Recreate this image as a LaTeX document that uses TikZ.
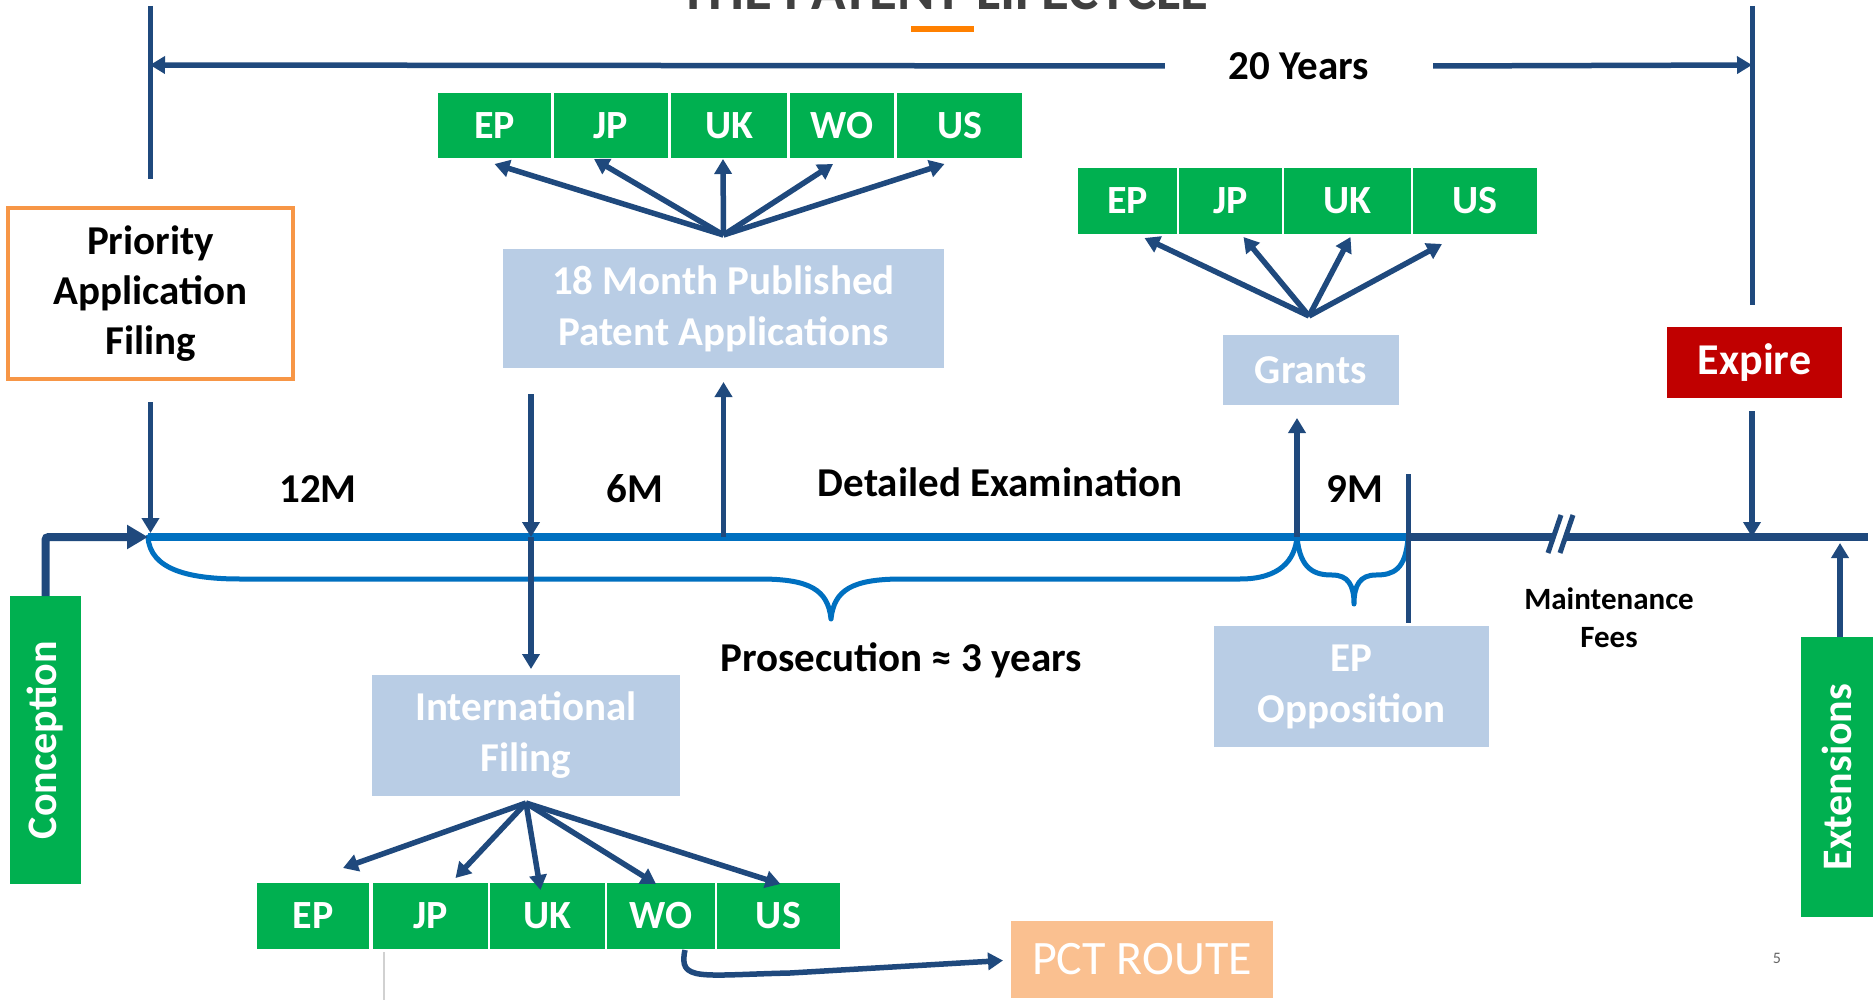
\documentclass[tikz,border=0pt]{standalone}
\usepackage{fontspec}
\setmainfont{Carlito}
\usetikzlibrary{arrows.meta}
\definecolor{pgreen}{HTML}{00B050}
\definecolor{plblue}{HTML}{B9CDE5}
\definecolor{pnavy}{HTML}{1F497D}
\definecolor{ptime}{HTML}{0070C0}
\definecolor{pred}{HTML}{C00000}
\definecolor{porange}{HTML}{F79646}
\definecolor{ppeach}{HTML}{FAC090}
\definecolor{ptitle}{HTML}{404040}
\definecolor{porbar}{HTML}{FF8000}
\begin{document}
\begin{tikzpicture}[x=1pt,y=-1pt,
  every node/.style={inner sep=0pt, outer sep=0pt},
  gbox/.style={fill=pgreen, draw=white, line width=1.5pt, anchor=north west, text=white, font=\bfseries\fontsize{40}{48}\selectfont},
  gvert/.style={fill=pgreen, rotate=90, anchor=center, text=white, font=\bfseries\fontsize{42}{48}\selectfont},
  lbbox/.style={fill=plblue, anchor=north west, text=white, align=center, font=\bfseries\fontsize{41}{51}\selectfont},
  arr/.style={draw=pnavy, line width=5.5pt, -{Triangle[width=17pt,length=15pt]}},
  bigarr/.style={draw=pnavy, line width=8pt, -{Triangle[width=23pt,length=21pt]}},
  navyline/.style={draw=pnavy, line width=5pt},
  lbl/.style={font=\bfseries\fontsize{41}{48}\selectfont, text=black, align=center},
  brace/.style={draw=ptime, line width=5pt, line cap=round, line join=round},
]
\useasboundingbox (0,0) rectangle (1874,1000);
\fill[white] (0,0) rectangle (1874,1000);
\begin{scope}
\clip (0,0) rectangle (1874,1000);

% title (cut off at top)
\node[anchor=base, font=\bfseries\fontsize{57}{57}\selectfont, text=ptitle] (title) at (944,10) {THE PATENT LIFECYCLE};
\fill[porbar] (911,26) rectangle (974,32);

% 20 years
\coordinate (yl) at (150,65);
\coordinate (yr) at (1752,65);
\draw[navyline] (150,6) -- (150,179);
\draw[navyline] (1752,6) -- (1752,305);
\node[lbl] (twenty) at (1299,66) {20 Years};
\draw[arr] ([xshift=-64pt]twenty.west) -- (yl);
\draw[arr] ([xshift=64pt]twenty.east) -- (yr);

% timeline
\coordinate (tl) at (0,537);
\coordinate (tA) at (148,537);
\coordinate (tG) at (1297,537);
\coordinate (tB) at (1408,537);
\coordinate (tC) at (1868,537);
\draw[ptime, line width=8pt] (tA) -- (tB);
\draw[pnavy, line width=8pt] (tB) -- (tC);
% break
\draw[white, line width=8pt] (1554,556) -- (1567,512);
\draw[navyline] (1548,553) -- (1561,515);
\draw[navyline] (1560,553) -- (1573,515);

% braces
\draw[brace] (tA) .. controls (150,570) and (190,579) .. (240,579) -- (760,579)
  .. controls (810,579) and (828,590) .. (831,619)
  .. controls (834,590) and (852,579) .. (902,579) -- (1240,579)
  .. controls (1280,579) and (1295,560) .. (tG);
\draw[brace] (tG) .. controls (1300,570) and (1315,575) .. (1332,575)
  .. controls (1348,575) and (1354,585) .. (1354,604)
  .. controls (1354,585) and (1360,575) .. (1376,575)
  .. controls (1393,575) and (1406,570) .. (tB);
\draw[navyline] (tB |- 0,474) -- (tB |- 0,623);

% Priority
\node[draw=porange, line width=4pt, fill=white, anchor=north west, minimum width=285pt, minimum height=171pt, align=center, font=\bfseries\fontsize{41}{50}\selectfont] (prio) at (8,208) {Priority\\Application\\Filing};
\draw[arr] ([yshift=-23pt]prio.south) -- ([yshift=4pt]prio.south |- tl);

% Conception
\node[gvert, minimum width=288pt, minimum height=71pt] (concep) at (45.5,740) {Conception};
\draw[bigarr, rounded corners=3pt] (concep.east) |- (tA);

% published applications
\node[gbox, minimum width=115pt, minimum height=67pt] (pEP) at (437,92) {EP};
\node[gbox, minimum width=116pt, minimum height=67pt] (pJP) at (553,92) {JP};
\node[gbox, minimum width=118pt, minimum height=67pt] (pUK) at (670,92) {UK};
\node[gbox, minimum width=106pt, minimum height=67pt] (pWO) at (789,92) {WO};
\node[gbox, minimum width=127pt, minimum height=67pt] (pUS) at (896,92) {US};
\node[lbbox, minimum width=441pt, minimum height=119pt] (pub) at (503,249) {18 Month Published\\Patent Applications};
\coordinate (hubP) at ([yshift=14pt]pub.north);
\draw[arr] (hubP) -- ([yshift=-5pt]pEP.south);
\draw[arr] (hubP) -- ([xshift=-17pt]pJP.south);
\draw[arr] (hubP) -- ([xshift=-6pt]pUK.south);
\draw[arr] (hubP) -- ([xshift=-9pt,yshift=-5pt]pWO.south);
\draw[arr] (hubP) -- ([xshift=-15pt,yshift=-5pt]pUS.south);
\draw[arr] (pub.south |- tl) -- ([yshift=-14pt]pub.south);

% international filing
\node[lbbox, minimum width=308pt, minimum height=121pt] (intl) at (372,675) {International\\Filing};
\coordinate (tI) at (531,537);
\draw[arr] (tI |- 0,394) -- (tI);
\draw[arr] (tI) -- (tI |- 0,669);
\node[gbox, minimum width=114pt, minimum height=68pt] (bEP) at (256,882) {EP};
\node[gbox, minimum width=117pt, minimum height=68pt] (bJP) at (372,882) {JP};
\node[gbox, minimum width=117pt, minimum height=68pt] (bUK) at (489,882) {UK};
\node[gbox, minimum width=110pt, minimum height=68pt] (bWO) at (606,882) {WO};
\node[gbox, minimum width=125pt, minimum height=68pt] (bUS) at (716,882) {US};
\coordinate (hubI) at ([yshift=-7pt]intl.south);
\draw[arr] (hubI) -- ([xshift=30pt,yshift=14pt]bEP.north);
\draw[arr] (hubI) -- ([xshift=25pt,yshift=4pt]bJP.north);
\draw[arr] (hubI) -- ([xshift=-7pt,yshift=-8pt]bUK.north);
\draw[arr] (hubI) -- ([xshift=-5pt,yshift=-2pt]bWO.north);
\draw[arr] (hubI) -- ([xshift=2pt,yshift=-2pt]bUS.north);
\draw[black!18, line width=1.2pt] (384,952) -- (384,1000);

% PCT route
\node[fill=ppeach, anchor=north west, minimum width=262pt, minimum height=77pt, text=white, font=\fontsize{48}{48}\selectfont] (pct) at (1011,921) {PCT ROUTE};
\draw[arr] ([xshift=24pt]bWO.south) .. controls (678,982) and (700,975) .. (790,973) -- ([xshift=-8pt,yshift=-1pt]pct.west);

% grants
\node[gbox, minimum width=101pt, minimum height=68pt] (gEP) at (1077,167) {EP};
\node[gbox, minimum width=105pt, minimum height=68pt] (gJP) at (1178,167) {JP};
\node[gbox, minimum width=129pt, minimum height=68pt] (gUK) at (1283,167) {UK};
\node[gbox, minimum width=126pt, minimum height=68pt] (gUS) at (1412,167) {US};
\node[lbbox, minimum width=176pt, minimum height=70pt] (grants) at (1223,335) {Grants};
\coordinate (hubG) at ([xshift=-2pt,yshift=19pt]grants.north);
\draw[arr] (hubG) -- ([xshift=17pt,yshift=-3pt]gEP.south);
\draw[arr] (hubG) -- ([xshift=13pt,yshift=-2pt]gJP.south);
\draw[arr] (hubG) -- ([xshift=3pt,yshift=-2pt]gUK.south);
\draw[arr] (hubG) -- ([xshift=-33pt,yshift=-9pt]gUS.south);
\draw[arr] (tG) -- (tG |- 0,418);

% EP opposition
\node[lbbox, minimum width=275pt, minimum height=121pt] (epopp) at (1214,626) {EP\\Opposition};

% expire & extensions
\node[fill=pred, anchor=north west, minimum width=175pt, minimum height=71pt, text=white, font=\bfseries\fontsize{44}{48}\selectfont] (expire) at (1667,327) {Expire};
\draw[arr] (yr |- 0,411) -- (yr |- tl);
\node[gvert, minimum width=280pt, minimum height=72pt] (ext) at (1837,777) {Extensions};
\draw[arr] ([xshift=3pt]ext.east) -- ([xshift=3pt,yshift=-6pt]ext.east |- tl);

% labels
\node[lbl] (m12) at (318,489) {12M};
\node[lbl] (m6) at (635,489) {6M};
\node[lbl] (detex) at (1000,482) {Detailed Examination};
\node[lbl] (m9) at (1355,489) {9M};
\node[lbl] (prosec) at (901,660) {Prosecution ≈ 3 years};
\node[font=\bfseries\fontsize{31}{38}\selectfont, align=center] (maint) at (1609,618) {Maintenance\\Fees};
\node[font=\fontsize{16}{16}\selectfont, text=black!60] (pg) at (1777,958) {5};
\end{scope}
\end{tikzpicture}
\end{document}
